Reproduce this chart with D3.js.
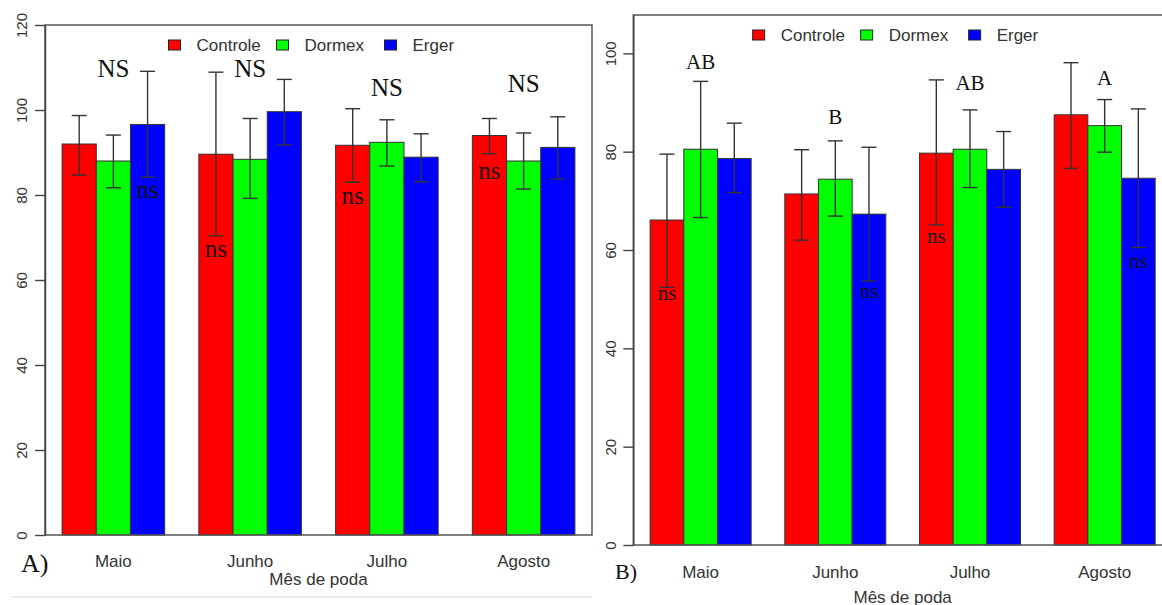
<!DOCTYPE html>
<html>
<head>
<meta charset="utf-8">
<script src="https://cdn.jsdelivr.net/npm/d3@7"></script>
<style>
  body { margin: 0; background: #fff; }
  svg { display: block; }
</style>
</head>
<body>
<svg id="chart"></svg>
<script>
const months = ['Maio', 'Junho', 'Julho', 'Agosto']
const treatments = ['Controle', 'Dormex', 'Erger']

// painel A -> one row per month, one value per treatment
const meansA = [[92.0, 88.0, 96.6], [89.6, 88.4, 99.6], [91.7, 92.4, 88.9], [94.0, 88.0, 91.2]]
const upperA = [[98.7, 94.1, 109.1], [108.9, 98.0, 107.2], [100.3, 97.7, 94.4], [98.0, 94.6, 98.4]]
const lowerA = [[84.7, 81.7, 84.2], [70.4, 79.2, 91.8], [83.0, 86.8, 83.1], [89.7, 81.4, 83.8]]
const lettersA = ['NS', 'NS', 'NS', 'NS']
const letterYA = [109.6, 109.6, 105.2, 106.1]
const nsBarA = ['Erger', 'Controle', 'Controle', 'Controle']
const nsYA = [80.7, 66.7, 79.3, 85.2]
const ticksA = [0, 20, 40, 60, 80, 100, 120]

// painel B
const meansB = [[66.1, 80.5, 78.6], [71.4, 74.4, 67.3], [79.7, 80.5, 76.4], [87.5, 85.3, 74.6]]
const upperB = [[79.5, 94.3, 85.8], [80.4, 82.2, 80.9], [94.6, 88.5, 84.1], [98.1, 90.6, 88.7]]
const lowerB = [[52.4, 66.6, 71.7], [62.0, 66.9, 53.7], [65.1, 72.7, 68.7], [76.6, 79.9, 60.5]]
const lettersB = ['AB', 'B', 'AB', 'A']
const letterYB = [98.2, 87.1, 94.0, 94.9]
const nsBarB = ['Controle', 'Erger', 'Controle', 'Erger']
const nsYB = [50.8, 51.3, 62.4, 57.3]
const ticksB = [0, 20, 40, 60, 80, 100]

const colours = ['#ff0000', '#00ff00', '#0000ff']

const width = 1162
const height = 605
const sans = "'Liberation Sans', Arial, sans-serif"
const serif = "'Liberation Serif', 'Times New Roman', serif"

const svg = d3.select('#chart')
    .attr('width', width)
    .attr('height', height)
    .style('background', '#fff')

// faint line under the first panel
svg.append('line')
    .attr('x1', 12).attr('x2', 592)
    .attr('y1', 597).attr('y2', 597)
    .style('stroke', '#ececec')
    .style('stroke-width', 2)

const drawPanel = ({means, upper, lower, letters, letterY, nsBar, nsY, yMax, yTicks,
                    x0, x1, y0, y1, letterSize, tickGap, tag, tagX, tagY, monthY, titleY}) => {

    // scales
        const xScale = d3.scaleBand()
            .domain(months)
            .range([x0, x1])
            .paddingInner(0.25)
            .paddingOuter(0.125)
        const xInner = d3.scaleBand()
            .domain(treatments)
            .range([0, xScale.bandwidth()])
        const yScale = d3.scaleLinear()
            .domain([0, yMax])
            .range([y0, y1])

        const rows = months.flatMap((m, i) => treatments.map((t, j) => ({
            month: m, treatment: t, mean: means[i][j], hi: upper[i][j], lo: lower[i][j], colour: colours[j]
        })))
        const cx = (m, t) => xScale(m) + xInner(t) + xInner.bandwidth() / 2

        const g = svg.append('g')

    // bars
        g.selectAll('.bar')
            .data(rows)
            .enter()
            .append('rect')
                .attr('x', d => xScale(d.month) + xInner(d.treatment))
                .attr('y', d => yScale(d.mean))
                .attr('width', xInner.bandwidth())
                .attr('height', d => yScale(0) - yScale(d.mean))
                .style('fill', d => d.colour)
                .style('stroke', '#333')
                .style('stroke-width', 1)

    // error bars
        const err = g.selectAll('.err')
            .data(rows)
            .enter()
            .append('g')
            .style('stroke', '#333')
            .style('stroke-width', 1.4)
        err.append('line')
            .attr('x1', d => cx(d.month, d.treatment)).attr('x2', d => cx(d.month, d.treatment))
            .attr('y1', d => yScale(d.hi)).attr('y2', d => yScale(d.lo))
        err.append('line')
            .attr('x1', d => cx(d.month, d.treatment) - 7.5).attr('x2', d => cx(d.month, d.treatment) + 7.5)
            .attr('y1', d => yScale(d.hi)).attr('y2', d => yScale(d.hi))
        err.append('line')
            .attr('x1', d => cx(d.month, d.treatment) - 7.5).attr('x2', d => cx(d.month, d.treatment) + 7.5)
            .attr('y1', d => yScale(d.lo)).attr('y2', d => yScale(d.lo))

    // box around the plot
        g.append('rect')
            .attr('x', x0).attr('y', y1)
            .attr('width', x1 - x0).attr('height', y0 - y1)
            .style('fill', 'none')
            .style('stroke', '#555')
            .style('stroke-width', 1.5)

    // y axis, labels rotated like R
        const yAxis = d3.axisLeft(yScale)
            .tickValues(yTicks)
            .tickSize(10)
            .tickSizeOuter(0)
        const ax = g.append('g')
            .attr('transform', `translate(${x0}, 0)`)
            .call(yAxis)
        ax.select('.domain').style('stroke', '#444').style('stroke-width', 1.5)
        ax.selectAll('.tick line').style('stroke', '#444').style('stroke-width', 1.4)
        ax.selectAll('.tick text')
            .attr('transform', 'rotate(-90)')
            .attr('x', 0)
            .attr('y', -tickGap)
            .attr('dy', 0)
            .attr('text-anchor', 'middle')
            .style('font', `15px ${sans}`)
            .style('fill', '#333')

    // month labels and axis title
        g.selectAll('.month')
            .data(months)
            .enter()
            .append('text')
                .attr('x', d => xScale(d) + xScale.bandwidth() / 2)
                .attr('y', monthY)
                .attr('text-anchor', 'middle')
                .style('font', `17px ${sans}`)
                .style('fill', '#333')
                .text(d => d)
        g.append('text')
            .attr('x', (x0 + x1) / 2)
            .attr('y', titleY)
            .attr('text-anchor', 'middle')
            .style('font', `17px ${sans}`)
            .style('fill', '#333')
            .text('Mês de poda')
        g.append('text')
            .attr('x', tagX)
            .attr('y', tagY)
            .style('font', `${letterSize + 1}px ${serif}`)
            .style('fill', '#111')
            .text(tag)

    // legend
        const lg = g.append('g')
            .attr('transform', `translate(${(x0 + x1) / 2 - 150}, ${y1 + 20})`)
        const item = lg.selectAll('.item')
            .data(treatments)
            .enter()
            .append('g')
            .attr('transform', (d, i) => `translate(${i * 108}, 0)`)
        item.append('rect')
            .attr('x', 0).attr('y', -5)
            .attr('width', 12).attr('height', 10)
            .style('fill', (d, i) => colours[i])
            .style('stroke', '#222')
            .style('stroke-width', 1)
        item.append('text')
            .attr('x', 28)
            .attr('y', 0)
            .attr('dy', '0.36em')
            .style('font', `17px ${sans}`)
            .style('fill', '#333')
            .text(d => d)

    // significance letters above the groups
        g.selectAll('.letter')
            .data(months)
            .enter()
            .append('text')
                .attr('x', d => xScale(d) + xScale.bandwidth() / 2)
                .attr('y', (d, i) => yScale(letterY[i]))
                .attr('dy', '0.33em')
                .attr('text-anchor', 'middle')
                .style('font', `${letterSize}px ${serif}`)
                .style('fill', '#111')
                .text((d, i) => letters[i])

    // "ns" under one bar of each group
        g.selectAll('.ns')
            .data(months)
            .enter()
            .append('text')
                .attr('x', (d, i) => cx(d, nsBar[i]))
                .attr('y', (d, i) => yScale(nsY[i]))
                .attr('dy', '0.23em')
                .attr('text-anchor', 'middle')
                .style('font', `${letterSize}px ${serif}`)
                .style('fill', '#111')
                .text('ns')
}

drawPanel({
    means: meansA, upper: upperA, lower: lowerA, letters: lettersA, letterY: letterYA,
    nsBar: nsBarA, nsY: nsYA, yMax: 120, yTicks: ticksA,
    x0: 45, x1: 592, y0: 535, y1: 25, letterSize: 25, tickGap: 18.5,
    tag: 'A)', tagX: 21, tagY: 572, monthY: 567, titleY: 585
})

drawPanel({
    means: meansB, upper: upperB, lower: lowerB, letters: lettersB, letterY: letterYB,
    nsBar: nsBarB, nsY: nsYB, yMax: 107.8, yTicks: ticksB,
    x0: 633.3, x1: 1172, y0: 545, y1: 15, letterSize: 21, tickGap: 17.3,
    tag: 'B)', tagX: 615, tagY: 579, monthY: 578, titleY: 603
})
</script>
</body>
</html>
